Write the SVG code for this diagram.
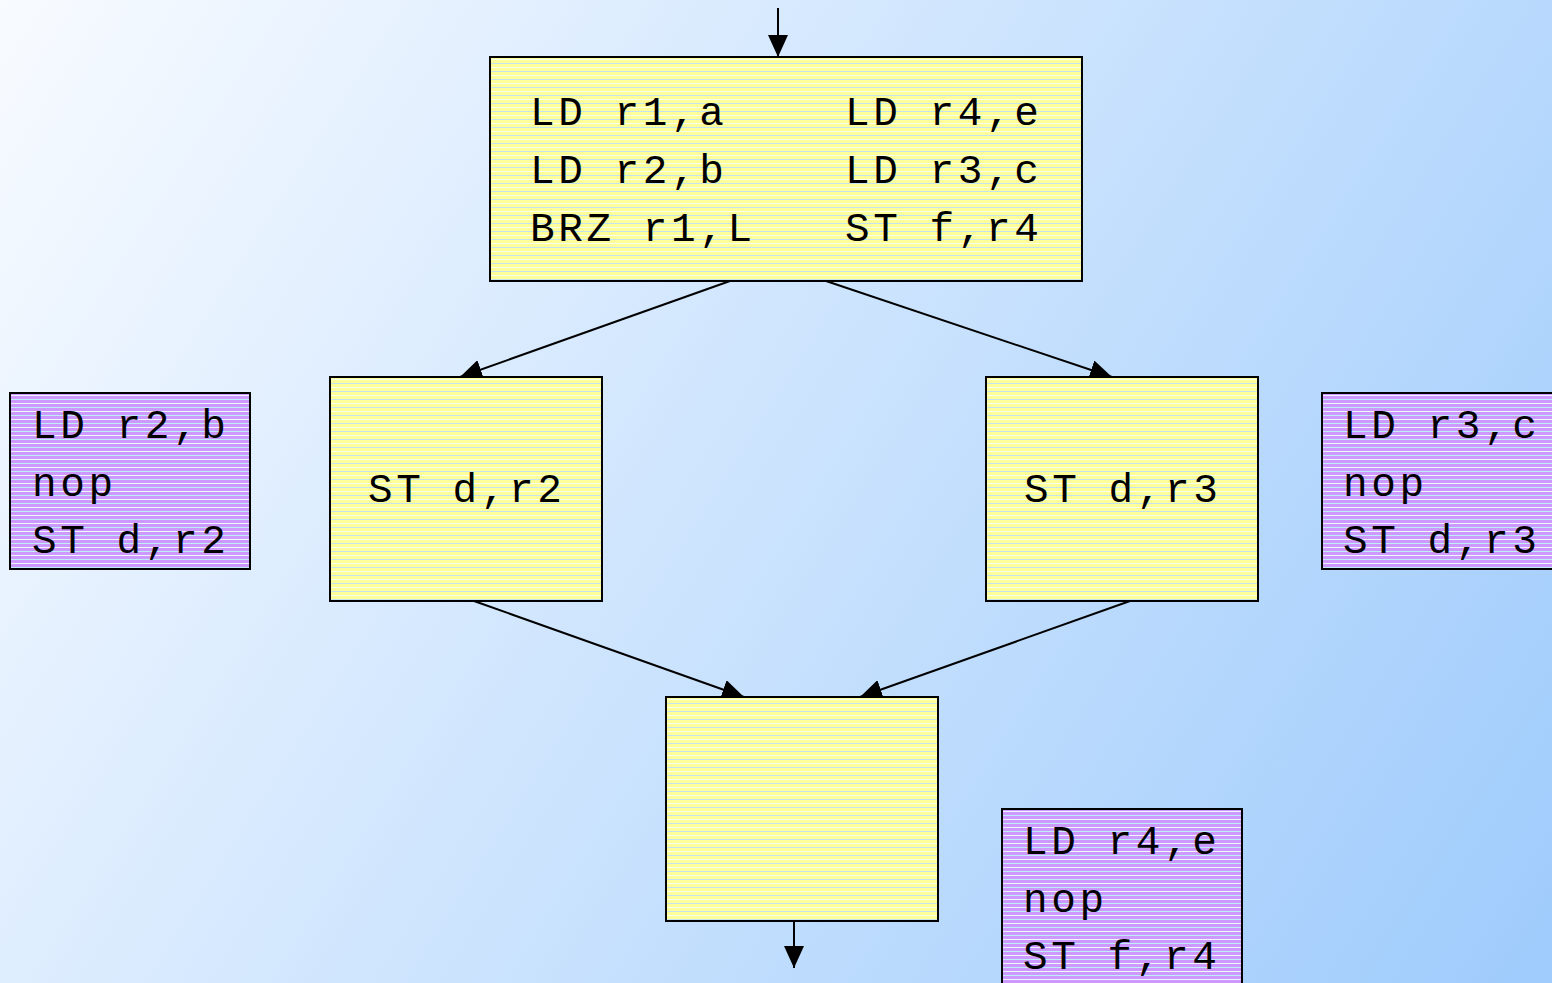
<svg xmlns="http://www.w3.org/2000/svg" width="1552" height="983" viewBox="0 0 1552 983">
  <defs>
    <linearGradient id="bg" x1="0" y1="0" x2="1552" y2="983" gradientUnits="userSpaceOnUse">
      <stop offset="0" stop-color="#f8fbff"/>
      <stop offset="1" stop-color="#9ecbfc"/>
    </linearGradient>
    <!-- banded fills: base colour with alternating pale rules every 4px -->
    <pattern id="yellowStripes" width="8" height="8" patternUnits="userSpaceOnUse">
      <rect width="8" height="8" fill="#ffff99"/>
      <rect y="3" width="8" height="1" fill="#fbfff0"/>
      <rect y="7" width="8" height="1" fill="#c4e4f4"/>
    </pattern>
    <pattern id="purpleStripes" width="8" height="8" patternUnits="userSpaceOnUse">
      <rect width="8" height="8" fill="#cc99ff"/>
      <rect y="3" width="8" height="1" fill="#f4f4ff"/>
      <rect y="7" width="8" height="1" fill="#bfeef8"/>
    </pattern>
    <marker id="arrow" viewBox="0 0 22 20" refX="22" refY="10" markerWidth="22" markerHeight="20" markerUnits="userSpaceOnUse" orient="auto">
      <path d="M0,0 L22,10 L0,20 z" fill="#000"/>
    </marker>
  </defs>
  <style>
    .block { fill: url(#yellowStripes); stroke: #000; stroke-width: 2; }
    .spill { fill: url(#purpleStripes); stroke: #000; stroke-width: 2; }
    .code { font-family: "Liberation Mono", "Courier New", monospace; font-size: 41px; letter-spacing: 3.6px; fill: #000; }
    .edge { stroke: #000; stroke-width: 2; fill: none; marker-end: url(#arrow); }
  </style>

  <rect width="1552" height="983" fill="url(#bg)"/>

  <g id="connectors">
    <line class="edge" x1="778" y1="8" x2="778" y2="57"/>
    <line class="edge" x1="730" y1="281" x2="460" y2="377"/>
    <line class="edge" x1="826" y1="281" x2="1112" y2="377"/>
    <line class="edge" x1="474" y1="601" x2="744" y2="697"/>
    <line class="edge" x1="1130" y1="601" x2="860" y2="697"/>
    <line class="edge" x1="794" y1="921" x2="794" y2="968"/>
  </g>

  <g id="entry-block">
    <rect class="block" x="490" y="57" width="592" height="224"/>
    <text class="code" x="530" y="125">LD r1,a</text>
    <text class="code" x="530" y="183">LD r2,b</text>
    <text class="code" x="530" y="241">BRZ r1,L</text>
    <text class="code" x="845" y="125">LD r4,e</text>
    <text class="code" x="845" y="183">LD r3,c</text>
    <text class="code" x="845" y="241">ST f,r4</text>
  </g>

  <g id="left-block">
    <rect class="block" x="330" y="377" width="272" height="224"/>
    <text class="code" x="368" y="502">ST d,r2</text>
  </g>

  <g id="right-block">
    <rect class="block" x="986" y="377" width="272" height="224"/>
    <text class="code" x="1024" y="502">ST d,r3</text>
  </g>

  <g id="join-block">
    <rect class="block" x="666" y="697" width="272" height="224"/>
  </g>

  <g id="left-copy">
    <rect class="spill" x="10" y="393" width="240" height="176"/>
    <text class="code" x="32" y="438">LD r2,b</text>
    <text class="code" x="32" y="496">nop</text>
    <text class="code" x="32" y="553">ST d,r2</text>
  </g>

  <g id="right-copy">
    <rect class="spill" x="1322" y="393" width="240" height="176"/>
    <text class="code" x="1343" y="438">LD r3,c</text>
    <text class="code" x="1343" y="496">nop</text>
    <text class="code" x="1343" y="553">ST d,r3</text>
  </g>

  <g id="join-copy">
    <rect class="spill" x="1002" y="809" width="240" height="180"/>
    <text class="code" x="1023" y="854">LD r4,e</text>
    <text class="code" x="1023" y="912">nop</text>
    <text class="code" x="1023" y="969">ST f,r4</text>
  </g>
</svg>
